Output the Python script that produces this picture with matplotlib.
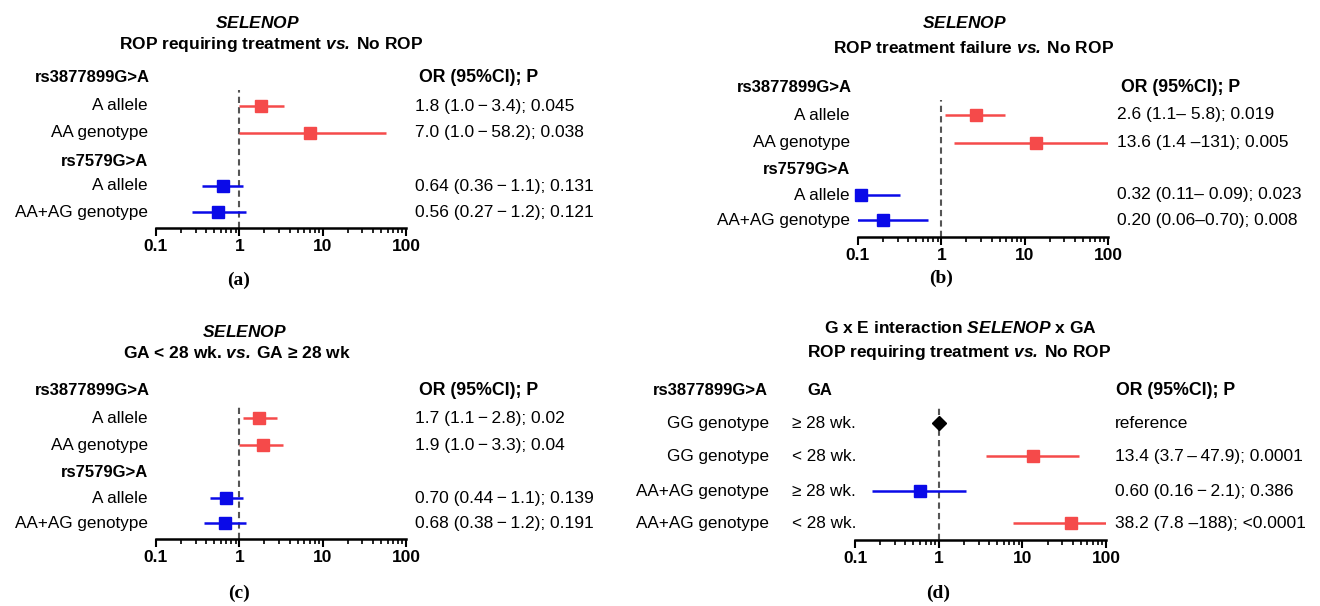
import matplotlib
matplotlib.use("Agg")
import matplotlib.pyplot as plt
from matplotlib.transforms import blended_transform_factory
from matplotlib.ticker import LogLocator, NullFormatter

plt.rcParams["font.family"] = ["Liberation Sans", "DejaVu Sans"]
plt.rcParams["mathtext.fontset"] = "custom"
plt.rcParams["mathtext.rm"] = "Liberation Sans"
plt.rcParams["mathtext.bf"] = "Liberation Sans:bold"
plt.rcParams["mathtext.it"] = "Liberation Sans:italic"
plt.rcParams["mathtext.bfit"] = "Liberation Sans:italic:bold"

RED = "#f54a4a"
BLUE = "#0a0ae8"
M = "\u2009\u2212\u2009"   # spaced minus used in the CI text
VS = "$\\mathbfit{vs.}$\u2009"

# ---- data ----
# (a) ROP requiring treatment vs No ROP
a_labels = ["A allele", "AA genotype", "A allele", "AA+AG genotype"]
a_or = [1.8, 7.0, 0.64, 0.56]
a_lo = [1.0, 1.0, 0.36, 0.27]
a_hi = [3.4, 58.2, 1.1, 1.2]
a_txt = ["1.8 (1.0" + M + "3.4); 0.045", "7.0 (1.0" + M + "58.2); 0.038",
         "0.64 (0.36" + M + "1.1); 0.131", "0.56 (0.27" + M + "1.2); 0.121"]

# (b) ROP treatment failure vs No ROP
b_labels = ["A allele", "AA genotype", "A allele", "AA+AG genotype"]
b_or = [2.6, 13.6, 0.11, 0.20]
b_lo = [1.1, 1.4, 0.10, 0.06]
b_hi = [5.8, 131, 0.32, 0.70]
b_txt = ["2.6 (1.1\u2013 5.8); 0.019", "13.6 (1.4 \u2013131); 0.005",
         "0.32 (0.11\u2013 0.09); 0.023", "0.20 (0.06\u20130.70); 0.008"]

# (c) GA < 28 wk vs GA >= 28 wk
c_labels = ["A allele", "AA genotype", "A allele", "AA+AG genotype"]
c_or = [1.7, 1.9, 0.70, 0.68]
c_lo = [1.1, 1.0, 0.44, 0.38]
c_hi = [2.8, 3.3, 1.1, 1.2]
c_txt = ["1.7 (1.1" + M + "2.8); 0.02", "1.9 (1.0" + M + "3.3); 0.04",
         "0.70 (0.44" + M + "1.1); 0.139", "0.68 (0.38" + M + "1.2); 0.191"]

# (d) G x E interaction
d_labels = ["GG genotype", "GG genotype", "AA+AG genotype", "AA+AG genotype"]
d_ga = ["\u2265 28 wk.", "< 28 wk.", "\u2265 28 wk.", "< 28 wk."]
d_or = [1.0, 13.4, 0.60, 38.2]
d_lo = [1.0, 3.7, 0.16, 7.8]
d_hi = [1.0, 47.9, 2.1, 188]
d_txt = ["reference", "13.4 (3.7\u2009\u2013\u200947.9); 0.0001",
         "0.60 (0.16" + M + "2.1); 0.386", "38.2 (7.8 \u2013188); <0.0001"]

snp_colors = [RED, RED, BLUE, BLUE]
d_colors = ["black", RED, BLUE, RED]
d_markers = ["D", "s", "s", "s"]

W, H = 1320, 606
fig = plt.figure(figsize=(W / 100, H / 100), dpi=100)


def make_axes(x0, x1, ytop, yaxis):
    ax = fig.add_axes([x0 / W, 1 - yaxis / H, (x1 - x0) / W, (yaxis - ytop) / H])
    ax.set_xscale("log")
    ax.set_xlim(0.1, 100)
    ax.set_ylim(yaxis, ytop)
    for s in ["top", "left", "right"]:
        ax.spines[s].set_visible(False)
    ax.spines["bottom"].set_linewidth(1.8)
    ax.set_yticks([])
    ax.set_xticks([0.1, 1, 10, 100])
    ax.set_xticklabels(["0.1", "1", "10", "100"], fontsize=12.5, fontweight="bold")
    ax.xaxis.set_minor_locator(LogLocator(base=10, subs=range(2, 10)))
    ax.xaxis.set_minor_formatter(NullFormatter())
    ax.tick_params(axis="x", which="major", direction="out", length=6, width=1.5, pad=2)
    ax.tick_params(axis="x", which="minor", direction="out", length=3.5, width=1.2)
    ax.set_facecolor("none")
    ax.axvline(1, color="#555555", lw=1.5, ls=(0, (3, 2)), zorder=1)
    return ax


def forest(ax, ys, ors, los, his, colors, markers=None):
    for i, y in enumerate(ys):
        m = markers[i] if markers else "s"
        ax.hlines(y, los[i], his[i], color=colors[i], lw=1.8, zorder=2)
        ax.plot(ors[i], y, marker=m, ms=8 if m == "s" else 7.5, color=colors[i],
                ls="none", zorder=3, clip_on=False)


def ftext(ax, x, y, s, size=12, **kw):
    tr = blended_transform_factory(fig.transFigure, ax.transData)
    ax.text(x / W, y, s, transform=tr, va="center", fontsize=size, clip_on=False, **kw)


def title(x, y, s):
    fig.text(x / W, 1 - y / H, s, ha="center", va="center", fontsize=12.5, fontweight="bold")


def panel_label(x, y, s):
    fig.text(x / W, 1 - y / H, s, ha="center", va="center", fontsize=14,
             family=["Liberation Serif", "DejaVu Serif"], fontweight="bold")


def snp_panel(x0, x1, ytop, yaxis, yhead, rows, lab_x, val_x, labels, ors, los, his, txts):
    ax = make_axes(x0, x1, ytop, yaxis)
    ys = [rows[0], rows[1], rows[3], rows[4]]
    forest(ax, ys, ors, los, his, snp_colors)
    ftext(ax, lab_x + 2, yhead, "rs3877899G>A", ha="right", fontweight="bold")
    ftext(ax, lab_x, rows[2], "rs7579G>A", ha="right", fontweight="bold")
    ftext(ax, val_x + 4, yhead, "OR (95%CI); P", size=12.8, ha="left", fontweight="bold")
    for y, lab, t in zip(ys, labels, txts):
        ftext(ax, lab_x, y, lab, size=12.3, ha="right")
        ftext(ax, val_x, y, t, size=12.5, ha="left")
    return ax


# (a)
title(258, 23, r"$\mathbfit{SELENOP}$")
title(271, 45, "ROP requiring treatment " + VS + "No ROP")
snp_panel(156, 406, 90, 228, 78, [106, 133, 161, 186, 212], 148, 415,
          a_labels, a_or, a_lo, a_hi, a_txt)
panel_label(239, 280, "(a)")

# (b)
title(965, 23, r"$\mathbfit{SELENOP}$")
title(974, 48, "ROP treatment failure " + VS + "No ROP")
snp_panel(858, 1108, 100, 237, 87, [115, 143, 170, 195, 220], 850, 1117,
          b_labels, b_or, b_lo, b_hi, b_txt)
panel_label(941, 278, "(b)")

# (c)
title(245, 332, r"$\mathbfit{SELENOP}$")
title(237, 353, "GA < 28 wk. " + VS + "GA \u2265 28 wk")
snp_panel(156, 406, 405, 539, 390, [418, 445, 472, 498, 523], 148, 415,
          c_labels, c_or, c_lo, c_hi, c_txt)
panel_label(239, 593, "(c)")

# (d)
title(960, 328, r"G x E interaction $\mathbfit{SELENOP}$ x GA")
title(959, 353, "ROP requiring treatment " + VS + "No ROP")
axd = make_axes(855, 1106, 407, 540)
d_rows = [423, 456, 491, 523]
forest(axd, d_rows, d_or, d_lo, d_hi, d_colors, d_markers)
ftext(axd, 768, 390, "rs3877899G>A", ha="right", fontweight="bold")
ftext(axd, 807, 390, "GA", ha="left", fontweight="bold")
ftext(axd, 1116, 390, "OR (95%CI); P", size=12.8, ha="left", fontweight="bold")
for y, lab, ga, t in zip(d_rows, d_labels, d_ga, d_txt):
    ftext(axd, 769, y, lab, size=12.3, ha="right")
    ftext(axd, 792, y, ga, size=12.3, ha="left")
    ftext(axd, 1115, y, t, size=12.5, ha="left")
panel_label(938, 593, "(d)")

fig.savefig("out.png", dpi=100, facecolor="white")
